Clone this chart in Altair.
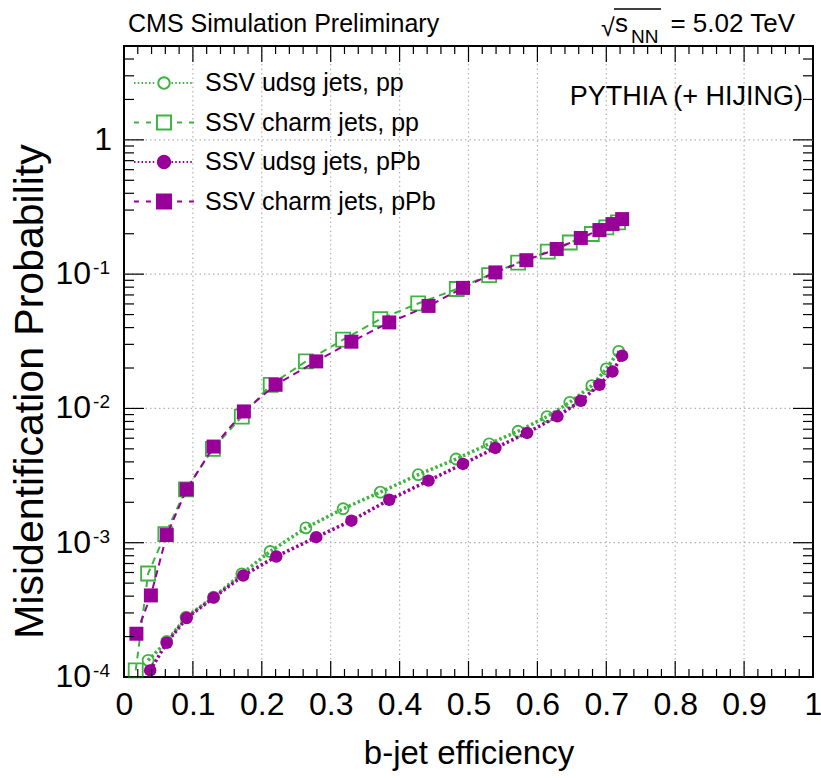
import math
import altair as alt
import pandas as pd

FONT = "Liberation Sans"
GREEN = "#3fb33f"
PURPLE = "#990099"
GRID = "#b4b4b4"
W, H = 689, 631

# ---------------- data ----------------
udsg_pp_x = [0.035, 0.062, 0.090, 0.130, 0.171, 0.212, 0.264, 0.318, 0.372, 0.427,
             0.482, 0.530, 0.572, 0.614, 0.647, 0.679, 0.700, 0.718]
udsg_pp_y = [1.33e-4, 1.84e-4, 2.79e-4, 3.93e-4, 5.87e-4, 8.6e-4, 1.29e-3, 1.79e-3,
             2.38e-3, 3.21e-3, 4.2e-3, 5.45e-3, 6.76e-3, 8.7e-3, 1.11e-2, 1.48e-2,
             1.97e-2, 2.66e-2]

charm_pp_x = [0.017, 0.035, 0.060, 0.090, 0.129, 0.171, 0.213, 0.264, 0.318, 0.372,
              0.427, 0.483, 0.530, 0.572, 0.615, 0.647, 0.679, 0.700, 0.717]
charm_pp_y = [1.12e-4, 5.9e-4, 1.16e-3, 2.5e-3, 5.0e-3, 8.7e-3, 1.5e-2, 2.24e-2,
              3.25e-2, 4.63e-2, 6.05e-2, 7.75e-2, 9.85e-2, 0.122, 0.147, 0.172,
              0.199, 0.223, 0.243]

udsg_pPb_x = [0.038, 0.062, 0.091, 0.130, 0.173, 0.221, 0.279, 0.330, 0.385, 0.442,
              0.492, 0.539, 0.585, 0.629, 0.663, 0.690, 0.709, 0.723]
udsg_pPb_y = [1.12e-4, 1.80e-4, 2.75e-4, 3.90e-4, 5.70e-4, 7.90e-4, 1.10e-3, 1.46e-3,
              2.09e-3, 2.90e-3, 3.86e-3, 5.08e-3, 6.57e-3, 8.73e-3, 1.14e-2, 1.50e-2,
              1.88e-2, 2.47e-2]

charm_pPb_x = [0.018, 0.039, 0.062, 0.091, 0.130, 0.174, 0.220, 0.279, 0.330, 0.385,
               0.442, 0.492, 0.539, 0.584, 0.628, 0.663, 0.690, 0.709, 0.723]
charm_pPb_y = [2.1e-4, 4.05e-4, 1.14e-3, 2.5e-3, 5.2e-3, 9.5e-3, 1.5e-2, 2.24e-2,
               3.14e-2, 4.37e-2, 5.8e-2, 7.9e-2, 0.103, 0.127, 0.154, 0.186, 0.213,
               0.236, 0.257]

series_names = ["SSV udsg jets, pp", "SSV charm jets, pp",
                "SSV udsg jets, pPb", "SSV charm jets, pPb"]

# axis tick values / labels
x_major = [round(i * 0.1, 1) for i in range(11)]
x_minor = [round(i * 0.02, 2) for i in range(51) if i % 5]
x_grid = x_major[1:-1]
y_major = [1e-4, 1e-3, 1e-2, 1e-1, 1.0]
y_minor = [m * 10.0 ** k for k in range(-4, 1) for m in range(2, 10) if m * 10.0 ** k <= 5]
y_grid = [1e-3, 1e-2, 1e-1, 1.0]
y_label_vals = [1e-4, 1e-3, 1e-2, 1e-1]
y_label_base = ["10", "10", "10", "10"]
y_label_exp = ["-4", "-3", "-2", "-1"]
y_one_val = [1.0]
y_one_text = ["1"]

# ---------------- scales / axes ----------------
XS = alt.Scale(domain=[0, 1], nice=False, zero=False)
YS = alt.Scale(type="log", domain=[1e-4, 5], nice=False)

XAX = alt.Axis(values=x_major, grid=False, ticks=False, domain=False,
               labelFont=FONT, labelFontSize=32, labelColor="black", labelPadding=12,
               labelFlush=False, labelOverlap=False,
               labelExpr="datum.value == 0 ? '0' : (datum.value == 1 ? '1' : format(datum.value, '.1f'))",
               title="b-jet efficiency", titleFont=FONT, titleFontSize=33,
               titleFontWeight="normal", titleColor="black", titleY=86,
               titleBaseline="alphabetic")
YAX = alt.Axis(values=y_major, grid=False, ticks=False, domain=False, labels=False,
               title="Misidentification Probability", titleFont=FONT, titleFontSize=41,
               titleFontWeight="normal", titleColor="black", titleX=-73, titleY=345)


def xenc(f):
    return alt.X(f, type="quantitative", scale=XS, axis=XAX)


def yenc(f):
    return alt.Y(f, type="quantitative", scale=YS, axis=YAX)


layers = []

# grid lines
layers.append(alt.Chart(pd.DataFrame({"v": x_grid})).mark_rule(
    color=GRID, strokeWidth=1.2, strokeDash=[1.5, 3]).encode(x=xenc("v")))
layers.append(alt.Chart(pd.DataFrame({"v": y_grid})).mark_rule(
    color=GRID, strokeWidth=1.2, strokeDash=[1.5, 3]).encode(y=yenc("v")))


def series(xs, ys, color, dash, lw, shape, filled, size, sw):
    df = pd.DataFrame({"x": xs, "y": ys})
    base = alt.Chart(df)
    line = base.mark_line(color=color, strokeDash=dash, strokeWidth=lw).encode(
        x=xenc("x"), y=yenc("y"))
    pts = base.mark_point(shape=shape, filled=filled, size=size, color=color,
                          strokeWidth=sw, opacity=1).encode(x=xenc("x"), y=yenc("y"))
    return [line, pts]


layers += series(udsg_pp_x, udsg_pp_y, GREEN, [2.5, 2.5], 3.5, "circle", False, 121, 1.8)
layers += series(charm_pp_x, charm_pp_y, GREEN, [7, 5], 2, "square", False, 196, 1.8)
layers += series(udsg_pPb_x, udsg_pPb_y, PURPLE, [2.5, 2.5], 3.5, "circle", True, 156, 1)
layers += series(charm_pPb_x, charm_pPb_y, PURPLE, [7, 5], 2, "square", True, 196, 1)


# ticks drawn inside the frame on all four sides
def xticks(vals, length):
    d = alt.Chart(pd.DataFrame({"v": vals}))
    return [
        d.mark_rule(color="black", strokeWidth=1.2).encode(
            x=xenc("v"), y=alt.value(H), y2=alt.value(H - length)),
        d.mark_rule(color="black", strokeWidth=1.2).encode(
            x=xenc("v"), y=alt.value(0), y2=alt.value(length)),
    ]


def yticks(vals, length):
    d = alt.Chart(pd.DataFrame({"v": vals}))
    return [
        d.mark_rule(color="black", strokeWidth=1.2).encode(
            y=yenc("v"), x=alt.value(0), x2=alt.value(length)),
        d.mark_rule(color="black", strokeWidth=1.2).encode(
            y=yenc("v"), x=alt.value(W), x2=alt.value(W - length)),
    ]


layers += xticks(x_major, 16) + xticks(x_minor, 8)
layers += yticks(y_major, 20) + yticks(y_minor, 10)

# y tick labels 10^n
ylab = alt.Chart(pd.DataFrame({"v": y_label_vals, "b": y_label_base, "e": y_label_exp}))
layers.append(ylab.mark_text(align="right", baseline="middle", font=FONT, fontSize=32,
                             color="black").encode(y=yenc("v"), x=alt.value(-33), text="b:N"))
layers.append(ylab.mark_text(align="right", baseline="alphabetic", font=FONT, fontSize=19,
                             color="black", dy=0).encode(y=yenc("v"), x=alt.value(-14), text="e:N"))
layers.append(alt.Chart(pd.DataFrame({"v": y_one_val, "t": y_one_text})).mark_text(
    align="right", baseline="middle", font=FONT, fontSize=32, color="black").encode(
    y=yenc("v"), x=alt.value(-12), text="t:N"))


# ---------------- legend (line + marker symbols) ----------------
def seg(x0, x1):
    return f"M{x0:.3f},0L{x1:.3f},0"


def dotted(a, b, step=0.25, dl=0.1):
    out, x = [], a
    while x + dl <= b + 1e-9:
        out.append(seg(x, x + dl))
        x += step
    return "".join(out)


def circle(r, n=28):
    pts = [(r * math.cos(2 * math.pi * i / n), r * math.sin(2 * math.pi * i / n)) for i in range(n)]
    return "M" + "L".join(f"{px:.3f},{py:.3f}" for px, py in pts) + "Z"


def square(h):
    return f"M{-h},{-h}L{h},{-h}L{h},{h}L{-h},{h}Z"


dashes = "".join(seg(a, b) for a, b in [(-2, -1.67), (-1.2, -0.87), (0.87, 1.2), (1.67, 2)])
paths = [
    dotted(-2, -0.5) + dotted(0.5, 2) + circle(0.38),
    dashes + square(0.47),
    dotted(-2, -0.5) + dotted(0.5, 2) + circle(0.41),
    dashes + square(0.47),
]
fills = ["transparent", "transparent", PURPLE, PURPLE]
strokes = [GREEN, GREEN, PURPLE, PURPLE]

LEG = alt.Legend(title=None, orient="none", legendX=24, legendY=21, direction="vertical",
                 labelFont=FONT, labelFontSize=25, labelColor="black", labelLimit=500,
                 labelOffset=25, rowPadding=10.5, symbolSize=900, symbolStrokeWidth=2,
                 symbolOpacity=1, padding=0)
leg = alt.Chart(pd.DataFrame({"s": series_names})).transform_filter("false").mark_point(
    filled=True, size=900, strokeWidth=2).encode(
    shape=alt.Shape("s:N", scale=alt.Scale(domain=series_names, range=paths), legend=LEG),
    fill=alt.Fill("s:N", scale=alt.Scale(domain=series_names, range=fills), legend=LEG),
    stroke=alt.Stroke("s:N", scale=alt.Scale(domain=series_names, range=strokes), legend=LEG),
)
layers.append(leg)


# ---------------- header texts ----------------
def txt(t, x, y, size, align="left", baseline="alphabetic"):
    return alt.Chart(pd.DataFrame({"t": [t]})).mark_text(
        align=align, baseline=baseline, font=FONT, fontSize=size, color="black").encode(
        text="t:N", x=alt.value(x), y=alt.value(y))


layers.append(txt("CMS Simulation Preliminary", 4, -14, 25))
layers.append(txt("= 5.02 TeV", 671, -14, 26, align="right"))
layers.append(txt("s", 491, -14, 26))
layers.append(txt("NN", 507, -3, 19))
layers.append(txt("\u221a", 477, -10, 25))
layers.append(alt.Chart(pd.DataFrame({"a": [0]})).mark_rule(color="black", strokeWidth=1.5).encode(
    x=alt.value(490), x2=alt.value(537), y=alt.value(-37)))
layers.append(txt("PYTHIA (+ HIJING)", 679, 59, 27, align="right"))

chart = alt.layer(*layers).properties(
    width=W, height=H,
    autosize=alt.AutoSizeParams(type="none"),
    padding={"left": 124, "top": 46, "right": 8, "bottom": 101},
    background="white",
).configure_view(stroke="black", strokeWidth=2)

chart.save("out.html", embed_options={"renderer": "svg", "actions": False})
